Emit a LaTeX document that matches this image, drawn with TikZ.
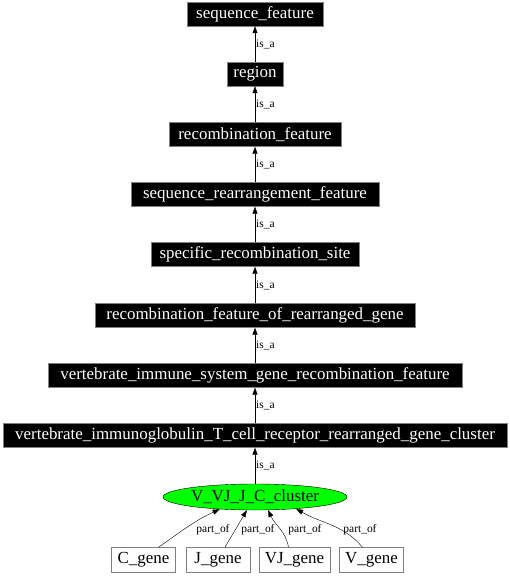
\documentclass[tikz,border=0pt]{standalone}
\usepackage{fontspec}
\setmainfont{Liberation Serif}
\usetikzlibrary{arrows.meta,shapes.geometric}

\tikzset{
  term/.style={fill=black, draw=gray, text=white, inner xsep=4bp, inner ysep=0bp,
    minimum height=24bp, font=\fontsize{17}{17}\selectfont},
  gene/.style={fill=white, draw=gray, inner xsep=4bp, inner ysep=0bp,
    minimum height=25bp, font=\fontsize{17}{17}\selectfont},
  rel/.style={draw=black, thin, -{Triangle[length=7bp,width=5bp]}},
  lbl/.style={font=\fontsize{11.5}{11.5}\selectfont, inner sep=1bp}
}

\begin{document}
\begin{tikzpicture}[x=1bp,y=-1bp]
\useasboundingbox (0,0) rectangle (510,576);

% ontology terms
\node [term, minimum width=136bp] (sf) at (255,14) {sequence\_feature};
\node [term, minimum width=56bp] (reg) at (255,74) {region};
\node [term, minimum width=172bp] (rf) at (255,134.5) {recombination\_feature};
\node [term, minimum width=248bp] (srf) at (255,194.5) {sequence\_rearrangement\_feature};
\node [term, minimum width=208bp] (srs) at (255,254.5) {specific\_recombination\_site};
\node [term, minimum width=320bp] (rfrg) at (255,315.5) {recombination\_feature\_of\_rearranged\_gene};
\node [term, minimum width=414bp] (visg) at (255,375.5) {vertebrate\_immune\_system\_gene\_recombination\_feature};
\node [term, minimum width=504bp] (vitc) at (255,435.5) {vertebrate\_immunoglobulin\_T\_cell\_receptor\_rearranged\_gene\_cluster};

% the cluster
\node [ellipse, draw=black, fill=green, minimum width=184bp, minimum height=26bp,
  inner sep=0bp, font=\fontsize{17}{17}\selectfont] (cl) at (255,497) {V\_VJ\_J\_C\_cluster};

% the genes
\node [gene, minimum width=64bp] (cg) at (143.5,560) {C\_gene};
\node [gene, minimum width=64bp] (jg) at (218,560) {J\_gene};
\node [gene, minimum width=71bp] (vjg) at (294.5,560) {VJ\_gene};
\node [gene, minimum width=64bp] (vg) at (371.5,560) {V\_gene};

% is_a edges
\draw [rel] (reg) -- (sf) node[lbl, midway, right] {is\_a};
\draw [rel] (rf) -- (reg) node[lbl, midway, right] {is\_a};
\draw [rel] (srf) -- (rf) node[lbl, midway, right] {is\_a};
\draw [rel] (srs) -- (srf) node[lbl, midway, right] {is\_a};
\draw [rel] (rfrg) -- (srs) node[lbl, midway, right] {is\_a};
\draw [rel] (visg) -- (rfrg) node[lbl, midway, right] {is\_a};
\draw [rel] (vitc) -- (visg) node[lbl, midway, right] {is\_a};
\draw [rel] (cl) -- (vitc) node[lbl, midway, right] {is\_a};

% part_of edges
\draw [rel] ([xshift=15bp]cg.north) to[out=35,in=205] (cl.199);
\draw [rel] ([xshift=7bp]jg.north) to[out=60,in=240] (cl.238);
\draw [rel] ([xshift=-6bp]vjg.north) to[out=100,in=295] (cl.315);
\draw [rel] ([xshift=-9bp]vg.north) to[out=130,in=330] (cl.344);

% part_of labels
\node [lbl] (p1) at (213,530) {part\_of};
\node [lbl] (p2) at (258,530) {part\_of};
\node [lbl] (p3) at (305,530) {part\_of};
\node [lbl] (p4) at (360,530) {part\_of};
\end{tikzpicture}
\end{document}
